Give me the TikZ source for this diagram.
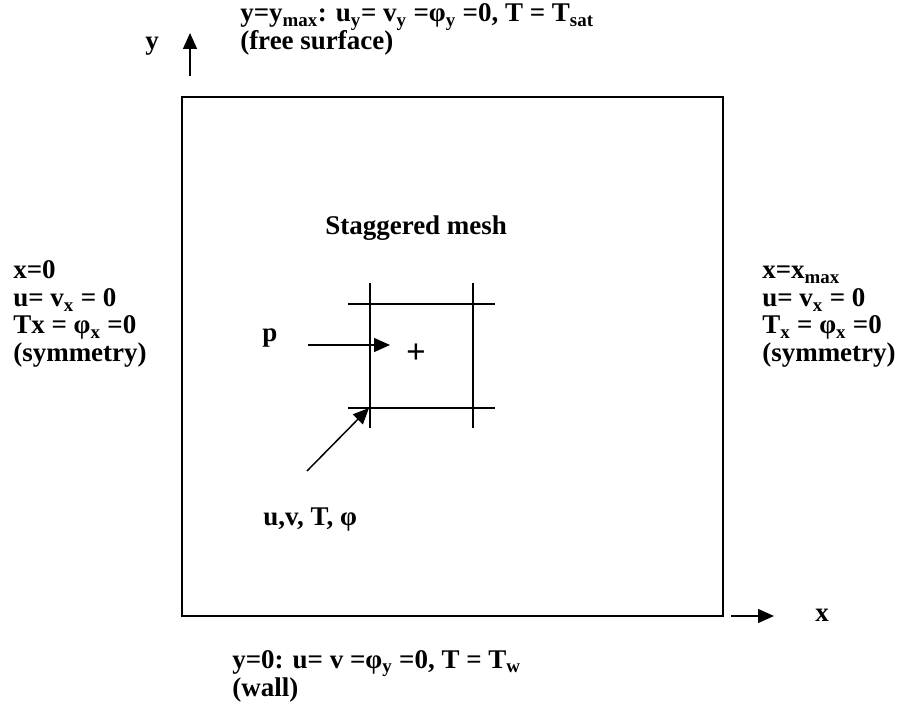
\documentclass[tikz,border=0pt]{standalone}
\usepackage{fontspec}
\setmainfont{Liberation Serif}
\usetikzlibrary{arrows.meta}
\tikzset{
  lbl/.style={anchor=base west, inner sep=0pt, font=\fontsize{20.25}{21}\selectfont\bfseries},
  boxline/.style={line width=1.5pt},
  meshline/.style={line width=1.1pt},
  arr/.style={line width=1.1pt, -{Triangle[length=12pt,width=10.5pt]}}
}
\begin{document}
\begin{tikzpicture}[x=0.75pt,y=-0.75pt]
\useasboundingbox (0,0) rectangle (901,709);
% domain
\draw[boxline] (182,97) rectangle (723,616);
% axes
\coordinate (ybot) at (190,76);
\coordinate (ytop) at (190,33);
\draw[arr] (ybot) -- (ytop);
\node[lbl] (ylab) at (145,50) {y};
\coordinate (xl) at (731,616);
\coordinate (xr) at (774,616);
\draw[arr] (xl) -- (xr);
\node[lbl] (xlab) at (815,622) {x};
% top boundary
\node[lbl] (top1) at (240,22) {y=y\textsubscript{max}: u\textsubscript{y}= v\textsubscript{y} =φ\textsubscript{y} =0, T = T\textsubscript{sat}};
\node[lbl] (top2) at (240,50) {(free surface)};
% left boundary
\node[lbl] (l1) at (13,279) {x=0};
\node[lbl] (l2) at (13,307) {u= v\textsubscript{x} = 0};
\node[lbl] (l3) at (13,334) {Tx = φ\textsubscript{x} =0};
\node[lbl] (l4) at (13,362) {(symmetry)};
% right boundary
\node[lbl] (r1) at (762,279) {x=x\textsubscript{max}};
\node[lbl] (r2) at (762,307) {u= v\textsubscript{x} = 0};
\node[lbl] (r3) at (762,334) {T\textsubscript{x} = φ\textsubscript{x} =0};
\node[lbl] (r4) at (762,362) {(symmetry)};
% bottom boundary
\node[lbl] (b1) at (232,668) {y=0: u= v =φ\textsubscript{y} =0, T = T\textsubscript{w}};
\node[lbl] (b2) at (232,696) {(wall)};
% staggered mesh
\node[lbl] (title) at (325,235) {Staggered mesh};
\draw[meshline] (370,283) -- (370,428);
\draw[meshline] (473,283) -- (473,428);
\draw[meshline] (348,304) -- (495,304);
\draw[meshline] (348,408) -- (495,408);
\node[lbl, anchor=center, font=\fontsize{26}{26}\selectfont\bfseries] (plus) at (416,354) {+};
\node[lbl] (plab) at (262,342) {p};
\coordinate (pst) at (308,345);
\coordinate (pend) at (390,345);
\draw[arr] (pst) -- (pend);
\coordinate (dst) at (307,471);
\coordinate (corner) at (369,408);
\draw[arr] (dst) -- (corner);
\node[lbl] (uvt) at (263,526) {u,v, T, φ};
\end{tikzpicture}
\end{document}
